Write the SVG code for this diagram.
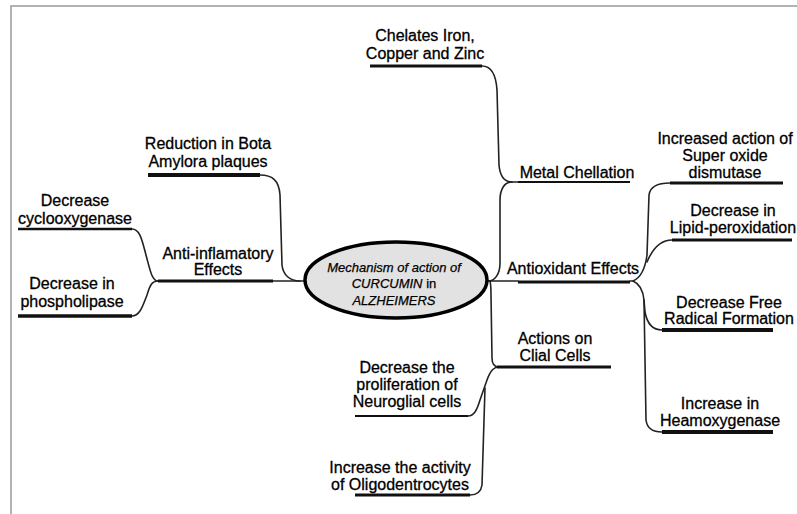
<svg xmlns="http://www.w3.org/2000/svg" width="797" height="514" viewBox="0 0 797 514">
<style>
.t{font-family:"Liberation Sans",Arial,sans-serif;font-size:16px;fill:#000;stroke:#000;stroke-width:0.3;text-anchor:middle}
.e{font-family:"Liberation Sans",Arial,sans-serif;font-size:13px;fill:#000;stroke:#000;stroke-width:0.25;text-anchor:middle;font-style:italic}
.u{stroke:#111;fill:none;stroke-linecap:butt}
.c{stroke:#222;stroke-width:1.6;fill:none;stroke-linecap:round}
</style>
<rect width="797" height="514" fill="#fff"/>
<path d="M11,514 L11,6 L797,6" fill="none" stroke="#9a9a9a" stroke-width="1.5"/>
<g id="connectors">
<path class="c" d="M260,175 C272,175 279,180 280,195 L282,265 C283,275 290,281 300,281"/>
<path class="c" d="M273,281 L306,281"/>
<path class="c" d="M132,229 C140,229 142,240 146,255 C150,270 152,281 158,281"/>
<path class="c" d="M132,316 C140,316 143,305 147,295 C150,285 152,281 158,281"/>
<path class="c" d="M482,66 C492,66 496,75 497,90 L499,165 C500,176 504,182 512,182 L518,182"/>
<path class="c" d="M512,182 C504,182 500,190 500,200 L500,263 C500,274 495,281 488,281"/>
<path class="c" d="M487,281 L518,281"/>
<path class="c" d="M490,281 C491,285 491,290 491,295 L492,358 C492,364 494,367 499,367"/>
<path class="c" d="M630,281 L633,281 C640,278 645,270 647,255 L649,195 C650,187 657,183 670,183"/>
<path class="c" d="M647,262 C652,250 660,240 672,240"/>
<path class="c" d="M633,281 C640,284 643,290 644,300 L645,312 C647,323 652,330 662,330"/>
<path class="c" d="M644,300 L646,420 C647,428 652,432 662,432"/>
<path class="c" d="M499,367 C493,367 490,372 487,380 L480,400 C477,410 474,416 468,416"/>
<path class="c" d="M485,388 L482,485 C481,492 477,495 470,495"/>
</g>
<g id="center">
<ellipse cx="396" cy="280" rx="91" ry="38" fill="#e2e2e2" stroke="#000" stroke-width="3.5"/>
<text class="e" x="394" y="272">Mechanism of action of</text>
<text class="e" x="394" y="288">CURCUMIN<tspan font-style="normal"> in</tspan></text>
<text class="e" x="394" y="305">ALZHEIMERS</text>
</g>
<g id="chelates">
<text class="t" x="425" y="41">Chelates Iron,</text>
<text class="t" x="425" y="59">Copper and Zinc</text>
<path class="u" d="M370,66 L482,66" stroke-width="3"/>
</g>
<g id="reduction">
<text class="t" x="208" y="149">Reduction in Bota</text>
<text class="t" x="208" y="167">Amylora plaques</text>
<path class="u" d="M148,175 L260,175" stroke-width="4"/>
</g>
<g id="cyclooxygenase">
<text class="t" x="75" y="206">Decrease</text>
<text class="t" x="75" y="224">cyclooxygenase</text>
<path class="u" d="M18,229 L132,229" stroke-width="2.5"/>
</g>
<g id="antiinflam">
<text class="t" x="218" y="259">Anti-inflamatory</text>
<text class="t" x="218" y="275">Effects</text>
<path class="u" d="M158,281 L273,281" stroke-width="3"/>
</g>
<g id="phospholipase">
<text class="t" x="72" y="289">Decrease in</text>
<text class="t" x="72" y="307">phospholipase</text>
<path class="u" d="M18,316 L132,316" stroke-width="3.5"/>
</g>
<g id="metal">
<text class="t" x="577" y="178">Metal Chellation</text>
<path class="u" d="M518,182 L630,182" stroke-width="2"/>
</g>
<g id="sod">
<text class="t" x="725" y="144">Increased action of</text>
<text class="t" x="725" y="161">Super oxide</text>
<text class="t" x="725" y="178">dismutase</text>
<path class="u" d="M670,183 L783,183" stroke-width="3"/>
</g>
<g id="lipid">
<text class="t" x="733" y="216">Decrease in</text>
<text class="t" x="733" y="233">Lipid-peroxidation</text>
<path class="u" d="M672,240 L792,240" stroke-width="3"/>
</g>
<g id="antioxidant">
<text class="t" x="573" y="274">Antioxidant Effects</text>
<path class="u" d="M518,282 L630,282" stroke-width="3"/>
</g>
<g id="freeradical">
<text class="t" x="729" y="308">Decrease Free</text>
<text class="t" x="729" y="324">Radical Formation</text>
<path class="u" d="M662,330 L773,330" stroke-width="4"/>
</g>
<g id="clial">
<text class="t" x="555" y="344">Actions on</text>
<text class="t" x="555" y="361">Clial Cells</text>
<path class="u" d="M497,367 L611,367" stroke-width="3"/>
</g>
<g id="neuroglial">
<text class="t" x="407" y="373">Decrease the</text>
<text class="t" x="407" y="390">proliferation of</text>
<text class="t" x="407" y="407">Neuroglial cells</text>
<path class="u" d="M355,416 L468,416" stroke-width="2"/>
</g>
<g id="heamoxygenase">
<text class="t" x="720" y="409">Increase in</text>
<text class="t" x="720" y="426">Heamoxygenase</text>
<path class="u" d="M662,432 L773,432" stroke-width="4"/>
</g>
<g id="oligo">
<text class="t" x="400" y="473">Increase the activity</text>
<text class="t" x="400" y="490">of Oligodentrocytes</text>
<path class="u" d="M355,495 L470,495" stroke-width="3"/>
</g>
</svg>
